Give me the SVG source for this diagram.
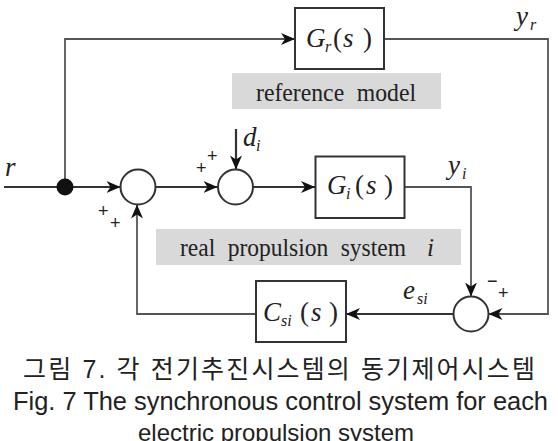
<svg xmlns="http://www.w3.org/2000/svg" width="558" height="441" viewBox="0 0 558 441">
<defs>
<marker id="ah" markerUnits="userSpaceOnUse" markerWidth="14" markerHeight="12" refX="14" refY="6" orient="auto">
<path d="M0,0 L14,6 L0,12 L4,6 Z" fill="#111"/>
</marker>
<style>
.ln{fill:none;stroke:#555;stroke-width:1.8}
.mn{fill:none;stroke:#333;stroke-width:2.2}
.box{fill:#fff;stroke:#333;stroke-width:2}
.sum{fill:#fff;stroke:#333;stroke-width:2}
.gray{fill:#d9d9d9}
.m{font-family:"Liberation Serif","DejaVu Serif",serif;font-size:27px;fill:#222}
.i{font-style:italic}
.sb{font-size:16px;font-style:italic}
.lab{font-family:"Liberation Serif","DejaVu Serif",serif;font-size:25px;fill:#222;word-spacing:7px}
.pm{font-family:"Liberation Sans",sans-serif;font-size:18px;fill:#222}
.cap{font-family:"Liberation Sans","Noto Sans CJK KR",sans-serif;fill:#222}
</style>
</defs>
<rect width="558" height="441" fill="#fff"/>

<g id="connectors">
<line class="mn" x1="4" y1="187" x2="120.5" y2="187" marker-end="url(#ah)"/>
<polyline class="ln" points="65,187 65,39 295,39" marker-end="url(#ah)"/>
<line class="mn" x1="155.5" y1="187" x2="217.5" y2="187" marker-end="url(#ah)"/>
<line class="mn" x1="236" y1="129" x2="236" y2="169.5" marker-end="url(#ah)"/>
<line class="mn" x1="253" y1="187" x2="315" y2="187" marker-end="url(#ah)"/>
<polyline class="ln" points="405,187 471,187 471,296.5" marker-end="url(#ah)"/>
<polyline class="ln" points="385,39 548,39 548,314 488.5,314" marker-end="url(#ah)"/>
<line class="mn" x1="453.5" y1="314" x2="346" y2="314" marker-end="url(#ah)"/>
<polyline class="ln" points="256,314 137,314 137,204.5" marker-end="url(#ah)"/>
<circle cx="65" cy="187" r="8.5" fill="#111"/>
</g>

<g id="sum1"><circle class="sum" cx="138" cy="187" r="17.5"/></g>
<g id="sum2"><circle class="sum" cx="235.5" cy="187" r="17.5"/></g>
<g id="sum3"><circle class="sum" cx="471" cy="314" r="17.5"/></g>

<g id="Gr">
<rect class="box" x="295" y="8" width="89" height="61"/>
<text class="m" y="47"><tspan class="i" x="306">G</tspan><tspan class="sb" x="325" y="52">r</tspan><tspan x="333" y="47">(</tspan><tspan class="i" x="343">s</tspan><tspan x="363">)</tspan></text>
</g>

<g id="refmodel">
<rect class="gray" x="232" y="73" width="209" height="36"/>
<text class="lab" x="256" y="101" textLength="160" lengthAdjust="spacingAndGlyphs">reference model</text>
</g>

<g id="Gi">
<rect class="box" x="315.5" y="156.5" width="89" height="61.5"/>
<text class="m" y="194"><tspan class="i" x="327">G</tspan><tspan class="sb" x="346" y="199">i</tspan><tspan x="355" y="194">(</tspan><tspan class="i" x="366">s</tspan><tspan x="384">)</tspan></text>
</g>

<g id="realprop">
<rect class="gray" x="156" y="229" width="305" height="36"/>
<text class="lab" x="180" y="256" textLength="226" lengthAdjust="spacingAndGlyphs">real propulsion system</text>
<text class="lab i" x="427" y="256">i</text>
</g>

<g id="Csi">
<rect class="box" x="256" y="281" width="90" height="61"/>
<text class="m" y="321"><tspan class="i" x="263">C</tspan><tspan class="sb" x="281" y="326">si</tspan><tspan x="300" y="321">(</tspan><tspan class="i" x="311">s</tspan><tspan x="329">)</tspan></text>
</g>

<g id="labels">
<text class="m" x="5" y="176"><tspan class="i">r</tspan></text>
<text class="m" y="146"><tspan class="i" x="243">d</tspan><tspan class="sb" x="256" y="151">i</tspan></text>
<text class="m" y="25"><tspan class="i" x="516">y</tspan><tspan class="sb" x="530" y="30">r</tspan></text>
<text class="m" y="174"><tspan class="i" x="448">y</tspan><tspan class="sb" x="462" y="179">i</tspan></text>
<text class="m" y="299"><tspan class="i" x="403">e</tspan><tspan class="sb" x="417" y="304">si</tspan></text>
<text class="pm" x="196" y="174">+</text>
<text class="pm" x="207" y="162">+</text>
<text class="pm" x="98" y="217">+</text>
<text class="pm" x="110" y="229">+</text>
<text class="pm" x="487" y="287">−</text>
<text class="pm" x="498" y="299">+</text>
</g>

<g id="caption">
<text class="cap" x="23" y="378" font-size="25" textLength="512" lengthAdjust="spacing">그림 7. 각 전기추진시스템의 동기제어시스템</text>
<text class="cap" x="13" y="410" font-size="25" textLength="535" lengthAdjust="spacingAndGlyphs">Fig. 7 The synchronous control system for each</text>
<text class="cap" x="138" y="441" font-size="24" textLength="276" lengthAdjust="spacingAndGlyphs">electric propulsion system</text>
</g>
</svg>
